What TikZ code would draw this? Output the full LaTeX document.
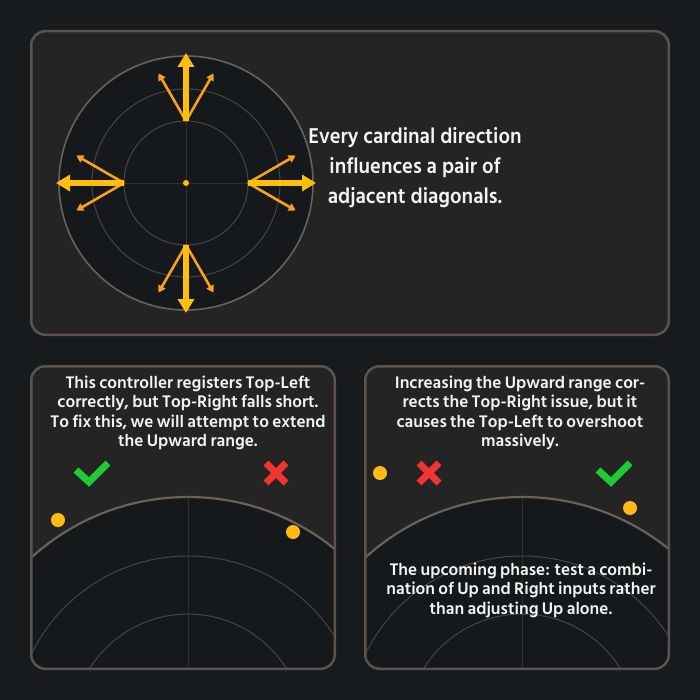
\documentclass[tikz,border=0pt]{standalone}
\usepackage{fontspec}
\newfontfamily\hindfont{Hind Siliguri}[WordSpace=0.8]
\newfontfamily\hindnarrow{Hind Siliguri}[FakeStretch=0.93]
\usetikzlibrary{arrows.meta}
\definecolor{bg}{HTML}{171B1D}
\definecolor{panel}{HTML}{242424}
\definecolor{pborder}{HTML}{5C534C}
\definecolor{dial}{HTML}{15191B}
\definecolor{ringout}{HTML}{6A6159}
\definecolor{ringin}{HTML}{464646}
\definecolor{crossc}{HTML}{2F2F2F}
\definecolor{amber}{HTML}{FFBE0B}
\definecolor{orng}{HTML}{F9A11B}
\definecolor{okgreen}{HTML}{1FCB35}
\definecolor{badred}{HTML}{F53333}
\definecolor{dotc}{HTML}{FFBB11}
\definecolor{txt}{HTML}{F4F4F4}
\begin{document}
\begin{tikzpicture}[x=1pt,y=-1pt,
  panelbox/.style={draw=pborder, line width=2.5pt, rounded corners=14pt},
  bigarrow/.style={draw=amber, line width=6pt, -{Triangle[width=16pt,length=14pt]}},
  smallarrow/.style={draw=orng, line width=2.6pt, -{Triangle[width=8pt,length=7pt]}},
  innerring/.style={draw=ringin, line width=1pt},
  outerring/.style={draw=ringout, line width=1.6pt},
  crossline/.style={draw=crossc, line width=0.8pt},
  bigtext/.style={text=txt, align=center, font=\hindnarrow\bfseries\fontsize{22}{30}\selectfont},
  smalltext/.style={text=txt, align=center, font=\hindfont\bfseries\fontsize{17.2}{19.5}\selectfont},
  checkmark/.style={draw=okgreen, line width=7pt, line cap=butt, line join=miter},
  crossmark/.style={draw=badred, line width=7pt, line cap=butt},
  dotmark/.style={fill=dotc}
]
\useasboundingbox (0,0) rectangle (700,700);
\fill[bg] (0,0) rectangle (700,700);

% ---------- top panel ----------
\fill[panel, rounded corners=14pt] (31.25,31.25) rectangle (668.75,334.75);
\coordinate (C) at (186,183);
\fill[dial] (C) circle (127);
\draw[crossline] (59,183) -- (313,183);
\draw[crossline] (186,56) -- (186,310);
\draw[innerring] (C) circle (62);
\draw[innerring] (C) circle (94);
\draw[outerring] (C) circle (127);
\foreach \a in {0,90,180,270} {
  \draw[smallarrow] ([shift={(\a:62)}]C) -- ++(\a+30:55);
  \draw[smallarrow] ([shift={(\a:62)}]C) -- ++(\a-30:55);
}
\foreach \a in {0,90,180,270} {
  \draw[bigarrow] ([shift={(\a:62)}]C) -- ([shift={(\a:130)}]C);
}
\fill[amber] (C) circle (3);
\draw[panelbox] (31.25,31.25) rectangle (668.75,334.75);
\node[bigtext] (toptext) at (415,168) {Every cardinal direction\\influences a pair of\\adjacent diagonals.};

% ---------- bottom left panel ----------
\begin{scope}
  \clip[rounded corners=14pt] (31.25,366.25) rectangle (334.75,668.75);
  \fill[panel] (31,366) rectangle (335,669);
  \coordinate (L) at (188,730);
  \fill[dial] (L) circle (233);
  \draw[crossline] (188,497) -- (188,700);
  \draw[innerring] (L) circle (174);
  \draw[innerring] (L) circle (116);
  \draw[outerring, line width=2.2pt] (L) circle (233);
\end{scope}
\draw[panelbox] (31.25,366.25) rectangle (334.75,668.75);
\node[smalltext] (lefttext) at (188,413) {This controller registers Top-Left\\correctly, but Top-Right falls short.\\To fix this, we will attempt to extend\\the Upward range.};
\draw[checkmark] (76,470) -- (89,482) -- (108,463);
\draw[crossmark] (266,463) -- (286,483);
\draw[crossmark] (286,463) -- (266,483);
\fill[dotmark] (58,520) circle (7);
\fill[dotmark] (293,532) circle (7);

% ---------- bottom right panel ----------
\begin{scope}
  \clip[rounded corners=14pt] (365.25,366.25) rectangle (668.75,668.75);
  \fill[panel] (365,366) rectangle (669,669);
  \coordinate (R) at (522,730);
  \fill[dial] (R) circle (233);
  \draw[crossline] (522,497) -- (522,700);
  \draw[innerring] (R) circle (174);
  \draw[innerring] (R) circle (116);
  \draw[outerring, line width=2.2pt] (R) circle (233);
\end{scope}
\draw[panelbox] (365.25,366.25) rectangle (668.75,668.75);
\node[smalltext] (righttext) at (520,413) {Increasing the Upward range cor-\\rects the Top-Right issue, but it\\causes the Top-Left to overshoot\\massively.};
\node[smalltext] (nexttext) at (521,590) {The upcoming phase: test a combi-\\nation of Up and Right inputs rather\\than adjusting Up alone.};
\draw[crossmark] (419,463) -- (439,483);
\draw[crossmark] (439,463) -- (419,483);
\draw[checkmark] (598,470) -- (611,482) -- (630,463);
\fill[dotmark] (380,473) circle (7);
\fill[dotmark] (630,508) circle (7);
\end{tikzpicture}
\end{document}
